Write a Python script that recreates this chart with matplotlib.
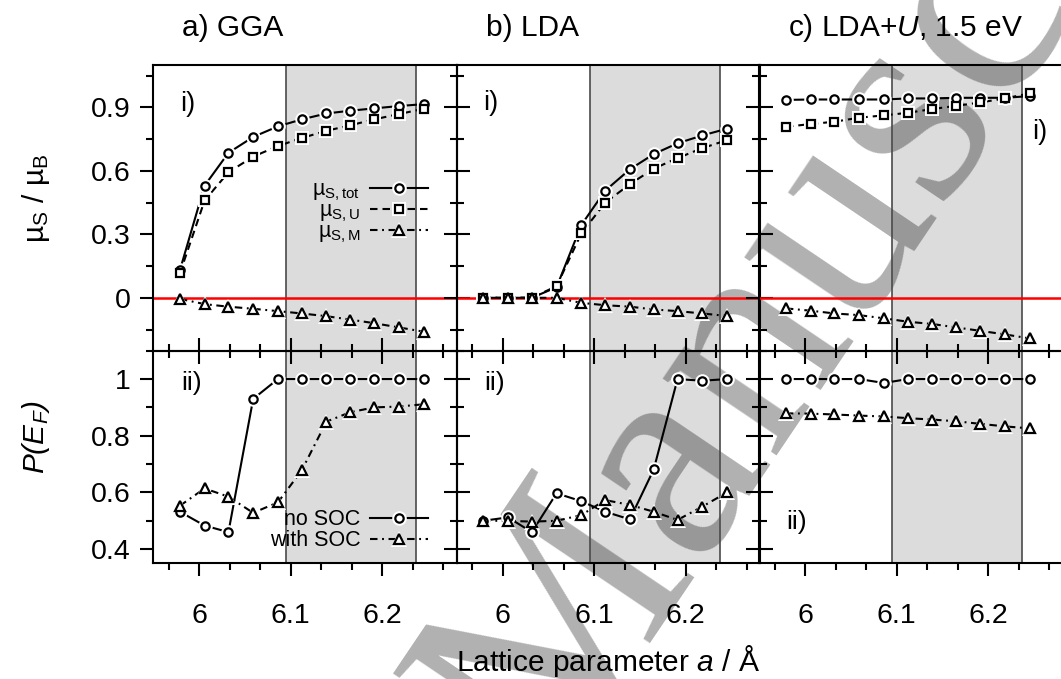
import matplotlib
matplotlib.use("Agg")
import matplotlib.pyplot as plt
from matplotlib.legend_handler import HandlerTuple
from matplotlib.ticker import FixedLocator, MultipleLocator

plt.rcParams['font.family'] = ['Liberation Sans', 'DejaVu Sans']
plt.rcParams['mathtext.fontset'] = 'custom'
plt.rcParams['mathtext.rm'] = 'Liberation Sans'
plt.rcParams['mathtext.it'] = 'Liberation Sans:italic'
plt.rcParams['mathtext.bf'] = 'Liberation Sans:bold'

# ---- data -------------------------------------------------------------
lattice_a = [5.979, 6.006, 6.032, 6.059, 6.086, 6.112, 6.139, 6.165, 6.191, 6.218, 6.245]

gga_mu_tot = [0.13, 0.53, 0.685, 0.76, 0.81, 0.843, 0.871, 0.884, 0.895, 0.906, 0.915]
gga_mu_u = [0.115, 0.46, 0.593, 0.667, 0.717, 0.755, 0.789, 0.815, 0.843, 0.868, 0.893]
gga_mu_m = [-0.005, -0.03, -0.042, -0.052, -0.063, -0.074, -0.087, -0.103, -0.12, -0.14, -0.16]
gga_p_nosoc = [0.532, 0.483, 0.46, 0.93, 1.0, 1.0, 1.0, 1.0, 1.0, 1.0, 1.0]
gga_p_soc = [0.553, 0.614, 0.585, 0.528, 0.565, 0.678, 0.85, 0.883, 0.9, 0.903, 0.911]

lda_mu_tot = [0.0, 0.0, 0.0, 0.05, 0.344, 0.506, 0.607, 0.679, 0.73, 0.767, 0.799]
lda_mu_u = [0.0, 0.0, 0.0, 0.055, 0.304, 0.449, 0.537, 0.61, 0.66, 0.707, 0.745]
lda_mu_m = [0.0, 0.0, 0.0, 0.0, -0.024, -0.035, -0.042, -0.055, -0.063, -0.074, -0.086]
lda_p_nosoc = [0.50, 0.512, 0.46, 0.597, 0.569, 0.532, 0.505, 0.681, 1.0, 0.994, 1.0]
lda_p_soc = [0.50, 0.50, 0.497, 0.50, 0.52, 0.573, 0.556, 0.532, 0.503, 0.55, 0.60]

ldau_mu_tot = [0.935, 0.937, 0.937, 0.937, 0.937, 0.942, 0.942, 0.945, 0.945, 0.945, 0.953]
ldau_mu_u = [0.808, 0.821, 0.832, 0.851, 0.862, 0.874, 0.892, 0.907, 0.923, 0.942, 0.966]
ldau_mu_m = [-0.050, -0.061, -0.074, -0.082, -0.097, -0.113, -0.124, -0.140, -0.156, -0.173, -0.192]
ldau_p_nosoc = [1.0, 1.0, 1.0, 1.0, 0.986, 1.0, 1.0, 1.0, 1.0, 1.0, 1.0]
ldau_p_soc = [0.879, 0.878, 0.875, 0.871, 0.868, 0.862, 0.857, 0.851, 0.842, 0.833, 0.826]

panel_titles = ["a) GGA", "b) LDA", "c) LDA+$U$, 1.5 eV"]
mu_series = [(gga_mu_tot, gga_mu_u, gga_mu_m),
             (lda_mu_tot, lda_mu_u, lda_mu_m),
             (ldau_mu_tot, ldau_mu_u, ldau_mu_m)]
p_series = [(gga_p_nosoc, gga_p_soc),
            (lda_p_nosoc, lda_p_soc),
            (ldau_p_nosoc, ldau_p_soc)]

mu_labels = ["µ$_\\mathrm{S,tot}$", "µ$_\\mathrm{S,U}$", "µ$_\\mathrm{S,M}$"]
p_labels = ["no SOC", "with SOC"]

x_ticks = [6.0, 6.1, 6.2]
x_tick_labels = ["6", "6.1", "6.2"]
mu_ticks = [0.0, 0.3, 0.6, 0.9]
mu_tick_labels = ["0", "0.3", "0.6", "0.9"]
p_ticks = [0.4, 0.6, 0.8, 1.0]
p_tick_labels = ["0.4", "0.6", "0.8", "1"]
shade_range = (6.095, 6.237)

# ---- layout -------------------------------------------------------------
W, H = 1061, 679
fig = plt.figure(figsize=(W / 100, H / 100), dpi=100)

lefts = [153.3, 456.7, 759.3]
pw = 303.3
y_top, y_mid, y_bot = 65.0, 350.7, 563.3

XLIM = (5.950, 6.281)
MU_LIM = (-0.25, 1.10)
P_LIM = (0.35, 1.10)

LW = 1.5
FS_TEXT = 21.5
FS_TICK = 20.5
SOLID = '-'
DASHED = (0, (3.6, 2.4))
DASHDOT = (0, (3.6, 2.2, 0.9, 2.2))


def frac_box(left, top, bottom):
    return [left / W, 1 - bottom / H, pw / W, (bottom - top) / H]


def draw_series(ax, x, y, marker, ls, ms):
    line, = ax.plot(x, y, color='k', lw=LW, ls=ls, zorder=2)
    halo, = ax.plot(x, y, ls='none', marker=marker, ms=ms + 4.5,
                    mfc='white', mec='white', mew=0, zorder=3)
    mk, = ax.plot(x, y, ls='none', marker=marker, ms=ms,
                  mfc='white', mec='k', mew=1.6, zorder=4)
    return (line, halo, mk)


def style_axes(ax, top_row):
    ax.set_facecolor('none')
    ax.set_xlim(*XLIM)
    ax.xaxis.set_major_locator(FixedLocator(x_ticks))
    ax.xaxis.set_minor_locator(MultipleLocator(0.1 / 3))
    for s in ax.spines.values():
        s.set_linewidth(LW)
    ax.tick_params(which='both', direction='out', width=LW, labelsize=FS_TICK)
    ax.tick_params(which='major', length=9.4)
    ax.tick_params(which='minor', length=5)
    ax.tick_params(axis='y', which='both', left=True, right=True, pad=7)
    if top_row:
        ax.tick_params(axis='x', which='both', bottom=True, top=False,
                       labelbottom=False)
    else:
        ax.tick_params(axis='x', which='both', bottom=True, top=True, pad=19)
    lo, hi = shade_range
    ax.axvspan(lo, hi, color='k', alpha=0.137, lw=0, zorder=0)
    for xv in shade_range:
        ax.axvline(xv, color='#4a4a4a', lw=1.2, zorder=1)


axes_top, axes_bot = [], []
for i in range(3):
    at = fig.add_axes(frac_box(lefts[i], y_top, y_mid))
    ab = fig.add_axes(frac_box(lefts[i], y_mid, y_bot))
    style_axes(at, True)
    style_axes(ab, False)

    at.set_ylim(*MU_LIM)
    at.yaxis.set_major_locator(FixedLocator(mu_ticks))
    at.yaxis.set_minor_locator(MultipleLocator(0.15))
    ab.set_ylim(*P_LIM)
    ab.yaxis.set_major_locator(FixedLocator(p_ticks))
    ab.yaxis.set_minor_locator(MultipleLocator(0.1))
    ab.set_xticks(x_ticks, labels=x_tick_labels)

    if i == 0:
        at.set_yticks(mu_ticks, labels=mu_tick_labels)
        ab.set_yticks(p_ticks, labels=p_tick_labels)
    else:
        at.tick_params(axis='y', labelleft=False)
        ab.tick_params(axis='y', labelleft=False)

    at.axhline(0, color='red', lw=1.8, zorder=1.5)

    tot, uu, mm = mu_series[i]
    h_tot = draw_series(at, lattice_a, tot, 'o', SOLID, 6.0)
    h_u = draw_series(at, lattice_a, uu, 's', DASHED, 6.0)
    h_m = draw_series(at, lattice_a, mm, '^', DASHDOT, 7.5)

    nosoc, soc = p_series[i]
    h_no = draw_series(ab, lattice_a, nosoc, 'o', SOLID, 6.0)
    h_so = draw_series(ab, lattice_a, soc, '^', DASHDOT, 7.5)

    at.text(0.095, 1.1015, panel_titles[i], transform=at.transAxes,
            fontsize=FS_TEXT, ha='left', va='baseline')

    if i == 0:
        leg_kw = dict(loc='upper right', markerfirst=False, frameon=False,
                      fontsize=15.5, handlelength=2.7, handletextpad=0.45,
                      borderpad=0, borderaxespad=0, numpoints=1,
                      handler_map={tuple: HandlerTuple(ndivide=1)})
        at.legend([h_tot, h_u, h_m], mu_labels, bbox_to_anchor=(0.906, 0.60),
                  labelspacing=-0.12, **leg_kw)
        ab.legend([h_no, h_so], p_labels, bbox_to_anchor=(0.906, 0.255),
                  labelspacing=0.0, **leg_kw)

    axes_top.append(at)
    axes_bot.append(ab)

# panel sub-labels
for ax, pos in zip(axes_top, [(0.113, 0.862), (0.113, 0.868), (0.925, 0.765)]):
    ax.text(*pos, "i)", transform=ax.transAxes, fontsize=19.5,
            ha='center', va='center')
for ax, pos in zip(axes_bot, [(0.125, 0.848), (0.126, 0.848), (0.124, 0.194)]):
    ax.text(*pos, "ii)", transform=ax.transAxes, fontsize=19,
            ha='center', va='center')

# axis titles
fig.text(36 / W, 1 - 198 / H, "µ$_\\mathrm{S}$ / µ$_\\mathrm{B}$", rotation=90,
         fontsize=FS_TEXT, ha='center', va='center')
fig.text(36 / W, 1 - 437 / H, "P(E$_F$)", rotation=90, style='italic',
         fontsize=FS_TEXT, ha='center', va='center')
fig.text(608 / W, 1 - 661 / H, "Lattice parameter $a$ / Å", fontsize=FS_TEXT,
         ha='center', va='center')

# diagonal watermark behind the data
fig.text(547 / W, 1 - 783 / H, "Manuscript", rotation=56,
         rotation_mode='anchor', ha='left', va='baseline', fontsize=215,
         family='Liberation Serif', color='k', alpha=0.31, zorder=-1)

fig.savefig("out.png", dpi=100)
